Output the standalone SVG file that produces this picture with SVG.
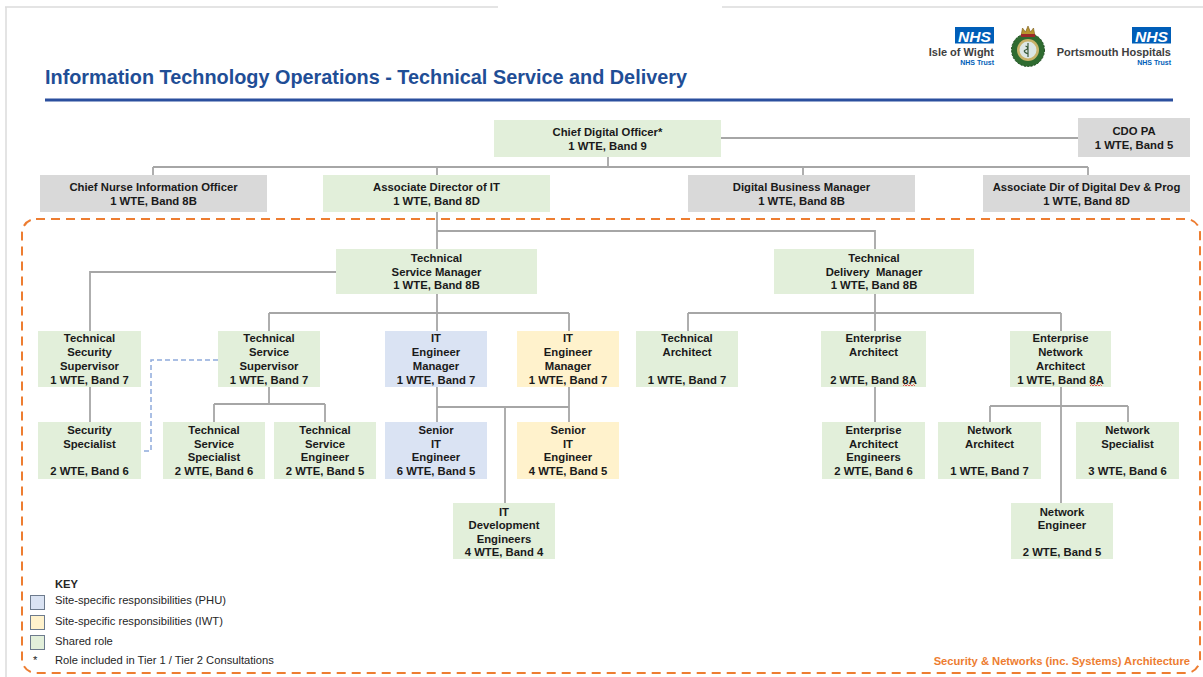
<svg xmlns="http://www.w3.org/2000/svg" width="1203" height="677" viewBox="0 0 1203 677">
<style>
.g{fill:#e2efda}.gr{fill:#d9d9d9}.b{fill:#dae3f3}.y{fill:#fff2cc}
.t{font-family:"Liberation Sans",Arial,sans-serif;font-size:11.3px;font-weight:bold;fill:#1a1a1a;text-anchor:middle}
.c{stroke:#a6a6a6;stroke-width:1.8;fill:none}
.k{font-family:"Liberation Sans",Arial,sans-serif;font-size:11.2px;fill:#262626}
.sq{stroke:#6d7b8d;stroke-width:1}
.sp{stroke:#e03030;stroke-width:0.8;fill:none}
</style>
<rect width="1203" height="677" fill="#ffffff"/>
<g id="page-frame" stroke="#dcdcdc" stroke-width="1.5" fill="none">
<path d="M5 7H498M722 7H1203M6 7V677"/>
</g>
<g id="header">
<text x="45" y="84" font-family="'Liberation Sans',Arial,sans-serif" font-size="20" font-weight="bold" fill="#1f4e96" textLength="642" lengthAdjust="spacingAndGlyphs">Information Technology Operations - Technical Service and Delivery</text>
<rect x="45" y="98.5" width="1128" height="3" fill="#2b4f9e"/>
</g>
<g id="logos">
<rect x="955" y="27" width="39" height="16.5" fill="#005eb8"/>
<text x="974.5" y="41.5" font-family="'Liberation Sans',Arial,sans-serif" font-size="15" font-weight="bold" font-style="italic" fill="#ffffff" text-anchor="middle" textLength="33" lengthAdjust="spacingAndGlyphs">NHS</text>
<text x="994" y="56" font-family="'Liberation Sans',Arial,sans-serif" font-size="11" font-weight="bold" fill="#404040" text-anchor="end">Isle of Wight</text>
<text x="994" y="65" font-family="'Liberation Sans',Arial,sans-serif" font-size="7" font-weight="bold" fill="#005eb8" text-anchor="end">NHS Trust</text>
<rect x="1132" y="27" width="39" height="16.5" fill="#005eb8"/>
<text x="1151.5" y="41.5" font-family="'Liberation Sans',Arial,sans-serif" font-size="15" font-weight="bold" font-style="italic" fill="#ffffff" text-anchor="middle" textLength="33" lengthAdjust="spacingAndGlyphs">NHS</text>
<text x="1171" y="56" font-family="'Liberation Sans',Arial,sans-serif" font-size="11" font-weight="bold" fill="#404040" text-anchor="end">Portsmouth Hospitals</text>
<text x="1171" y="65" font-family="'Liberation Sans',Arial,sans-serif" font-size="7" font-weight="bold" fill="#005eb8" text-anchor="end">NHS Trust</text>
<g id="emblem">
<circle cx="1028" cy="50" r="16.5" fill="#2f6b30"/>
<circle cx="1028" cy="50" r="16.5" fill="none" stroke="#1e4a20" stroke-width="1" stroke-dasharray="2 1.5"/>
<circle cx="1028" cy="50" r="11" fill="#c9b36a"/>
<circle cx="1028" cy="50" r="8.5" fill="#dce6e4"/>
<path d="M1028 43V57M1025.5 46c3 1 3 3 0 4s-0 3 3 4" stroke="#3a5a3a" stroke-width="1.2" fill="none"/>
<path d="M1021 36l1.5-8 3 4 2.5-6 2.5 6 3-4 1.5 8z" fill="#b8942e" stroke="#7a5a1a" stroke-width="0.6"/>
<rect x="1021" y="34" width="14" height="3" fill="#9b2a2a"/>
</g>
</g>
<rect id="scope-boundary" x="22" y="219" width="1178" height="454" rx="14" fill="none" stroke="#ed7d31" stroke-width="2" stroke-dasharray="9 6"/>
<g id="connectors">
<path class="c" d="M721 138H1078M608 157V167M153 167H1088M153 167V175M437 167V175M803 167V175M1088 167V175"/>
<path class="c" d="M437 212V249M437 231H875V249"/>
<path class="c" d="M336 272H90V331M437 294V331M269 313H569M269 313V331M569 313V331"/>
<path class="c" d="M875 294V331M688 313H1061M688 313V331M1061 313V331"/>
<path class="c" d="M90 387V422M269 387V404M214 404H325M214 404V422M325 404V422"/>
<path class="c" d="M437 387V422M569 387V422M437 407H569M505 407V503"/>
<path class="c" d="M875 387V422M1061 387V503M990 406H1128M990 406V422M1128 406V422"/>
<path d="M218 360H151V451H142" fill="none" stroke="#8faadc" stroke-width="1.5" stroke-dasharray="5 3"/>
</g>
<g id="n-cdo"><rect class="g" x="494" y="120" width="227" height="37"/><text class="t" x="607.5" y="136">Chief Digital Officer*</text><text class="t" x="607.5" y="150">1 WTE, Band 9</text></g>
<g id="n-cdo-pa"><rect class="gr" x="1078" y="118" width="112" height="39"/><text class="t" x="1134" y="135">CDO PA</text><text class="t" x="1134" y="149">1 WTE, Band 5</text></g>
<g id="n-cnio"><rect class="gr" x="40" y="175" width="227" height="37"/><text class="t" x="153.5" y="191">Chief Nurse Information Officer</text><text class="t" x="153.5" y="205">1 WTE, Band 8B</text></g>
<g id="n-adit"><rect class="g" x="323" y="175" width="227" height="37"/><text class="t" x="436.5" y="191">Associate Director of IT</text><text class="t" x="436.5" y="205">1 WTE, Band 8D</text></g>
<g id="n-dbm"><rect class="gr" x="688" y="175" width="227" height="37"/><text class="t" x="801.5" y="191">Digital Business Manager</text><text class="t" x="801.5" y="205">1 WTE, Band 8B</text></g>
<g id="n-addp"><rect class="gr" x="983" y="175" width="207" height="37"/><text class="t" x="1086.5" y="191">Associate Dir of Digital Dev &amp; Prog</text><text class="t" x="1086.5" y="205">1 WTE, Band 8D</text></g>
<g id="n-tsm"><rect class="g" x="336" y="249" width="201" height="45"/><text class="t" x="436.5" y="262">Technical</text><text class="t" x="436.5" y="276">Service Manager</text><text class="t" x="436.5" y="289">1 WTE, Band 8B</text></g>
<g id="n-tdm"><rect class="g" x="774" y="249" width="200" height="45"/><text class="t" x="874" y="262">Technical</text><text class="t" x="874" y="276" xml:space="preserve">Delivery  Manager</text><text class="t" x="874" y="289">1 WTE, Band 8B</text></g>
<g id="n-tsecs"><rect class="g" x="38" y="331" width="103" height="56"/><text class="t" x="89.5" y="342">Technical</text><text class="t" x="89.5" y="356">Security</text><text class="t" x="89.5" y="370">Supervisor</text><text class="t" x="89.5" y="384">1 WTE, Band 7</text></g>
<g id="n-tss"><rect class="g" x="218" y="331" width="102" height="56"/><text class="t" x="269" y="342">Technical</text><text class="t" x="269" y="356">Service</text><text class="t" x="269" y="370">Supervisor</text><text class="t" x="269" y="384">1 WTE, Band 7</text></g>
<g id="n-item-phu"><rect class="b" x="385" y="331" width="102" height="56"/><text class="t" x="436" y="342">IT</text><text class="t" x="436" y="356">Engineer</text><text class="t" x="436" y="370">Manager</text><text class="t" x="436" y="384">1 WTE, Band 7</text></g>
<g id="n-item-iwt"><rect class="y" x="517" y="331" width="102" height="56"/><text class="t" x="568" y="342">IT</text><text class="t" x="568" y="356">Engineer</text><text class="t" x="568" y="370">Manager</text><text class="t" x="568" y="384">1 WTE, Band 7</text></g>
<g id="n-ta"><rect class="g" x="636" y="331" width="102" height="56"/><text class="t" x="687" y="342">Technical</text><text class="t" x="687" y="356">Architect</text><text class="t" x="687" y="384">1 WTE, Band 7</text></g>
<g id="n-ea"><rect class="g" x="821" y="331" width="105" height="56"/><text class="t" x="873.5" y="342">Enterprise</text><text class="t" x="873.5" y="356">Architect</text><text class="t" x="873.5" y="384">2 WTE, Band 8A</text><path class="sp" d="M903 386l1.5-1.5 1.5 1.5 1.5-1.5 1.5 1.5 1.5-1.5 1.5 1.5 1.5-1.5 1.5 1.5"/></g>
<g id="n-ena"><rect class="g" x="1010" y="331" width="101" height="56"/><text class="t" x="1060.5" y="342">Enterprise</text><text class="t" x="1060.5" y="356">Network</text><text class="t" x="1060.5" y="370">Architect</text><text class="t" x="1060.5" y="384">1 WTE, Band 8A</text><path class="sp" d="M1090 386l1.5-1.5 1.5 1.5 1.5-1.5 1.5 1.5 1.5-1.5 1.5 1.5 1.5-1.5 1.5 1.5"/></g>
<g id="n-secspec"><rect class="g" x="38" y="422" width="103" height="57"/><text class="t" x="89.5" y="434">Security</text><text class="t" x="89.5" y="447.5">Specialist</text><text class="t" x="89.5" y="474.5">2 WTE, Band 6</text></g>
<g id="n-tsspec"><rect class="g" x="163" y="422" width="102" height="57"/><text class="t" x="214" y="434">Technical</text><text class="t" x="214" y="447.5">Service</text><text class="t" x="214" y="461">Specialist</text><text class="t" x="214" y="474.5">2 WTE, Band 6</text></g>
<g id="n-tseng"><rect class="g" x="274" y="422" width="102" height="57"/><text class="t" x="325" y="434">Technical</text><text class="t" x="325" y="447.5">Service</text><text class="t" x="325" y="461">Engineer</text><text class="t" x="325" y="474.5">2 WTE, Band 5</text></g>
<g id="n-sie-phu"><rect class="b" x="385" y="422" width="102" height="57"/><text class="t" x="436" y="434">Senior</text><text class="t" x="436" y="447.5">IT</text><text class="t" x="436" y="461">Engineer</text><text class="t" x="436" y="474.5">6 WTE, Band 5</text></g>
<g id="n-sie-iwt"><rect class="y" x="517" y="422" width="102" height="57"/><text class="t" x="568" y="434">Senior</text><text class="t" x="568" y="447.5">IT</text><text class="t" x="568" y="461">Engineer</text><text class="t" x="568" y="474.5">4 WTE, Band 5</text></g>
<g id="n-eae"><rect class="g" x="822" y="422" width="103" height="57"/><text class="t" x="873.5" y="434">Enterprise</text><text class="t" x="873.5" y="447.5">Architect</text><text class="t" x="873.5" y="461">Engineers</text><text class="t" x="873.5" y="474.5">2 WTE, Band 6</text></g>
<g id="n-na"><rect class="g" x="938" y="422" width="103" height="57"/><text class="t" x="989.5" y="434">Network</text><text class="t" x="989.5" y="447.5">Architect</text><text class="t" x="989.5" y="474.5">1 WTE, Band 7</text></g>
<g id="n-ns"><rect class="g" x="1076" y="422" width="103" height="57"/><text class="t" x="1127.5" y="434">Network</text><text class="t" x="1127.5" y="447.5">Specialist</text><text class="t" x="1127.5" y="474.5">3 WTE, Band 6</text></g>
<g id="n-ide"><rect class="g" x="453" y="503" width="102" height="56"/><text class="t" x="504" y="516">IT</text><text class="t" x="504" y="529">Development</text><text class="t" x="504" y="542.5">Engineers</text><text class="t" x="504" y="556">4 WTE, Band 4</text></g>
<g id="n-ne"><rect class="g" x="1011" y="503" width="102" height="56"/><text class="t" x="1062" y="516">Network</text><text class="t" x="1062" y="529">Engineer</text><text class="t" x="1062" y="556">2 WTE, Band 5</text></g>
<g id="key">
<text class="k" x="55" y="588" font-weight="bold">KEY</text>
<rect class="b sq" x="30.5" y="595.5" width="14" height="14"/>
<text class="k" x="55" y="604">Site-specific responsibilities (PHU)</text>
<rect class="y sq" x="30.5" y="615.5" width="14" height="14"/>
<text class="k" x="55" y="625">Site-specific responsibilities (IWT)</text>
<rect class="g sq" x="30.5" y="635.5" width="14" height="14"/>
<text class="k" x="55" y="645">Shared role</text>
<text class="k" x="33" y="664">*</text>
<text class="k" x="55" y="664">Role included in Tier 1 / Tier 2 Consultations</text>
</g>
<text id="scope-label" x="1190" y="665" font-family="'Liberation Sans',Arial,sans-serif" font-size="11.2" font-weight="bold" fill="#ed7d31" text-anchor="end">Security &amp; Networks (inc. Systems) Architecture</text>
</svg>
